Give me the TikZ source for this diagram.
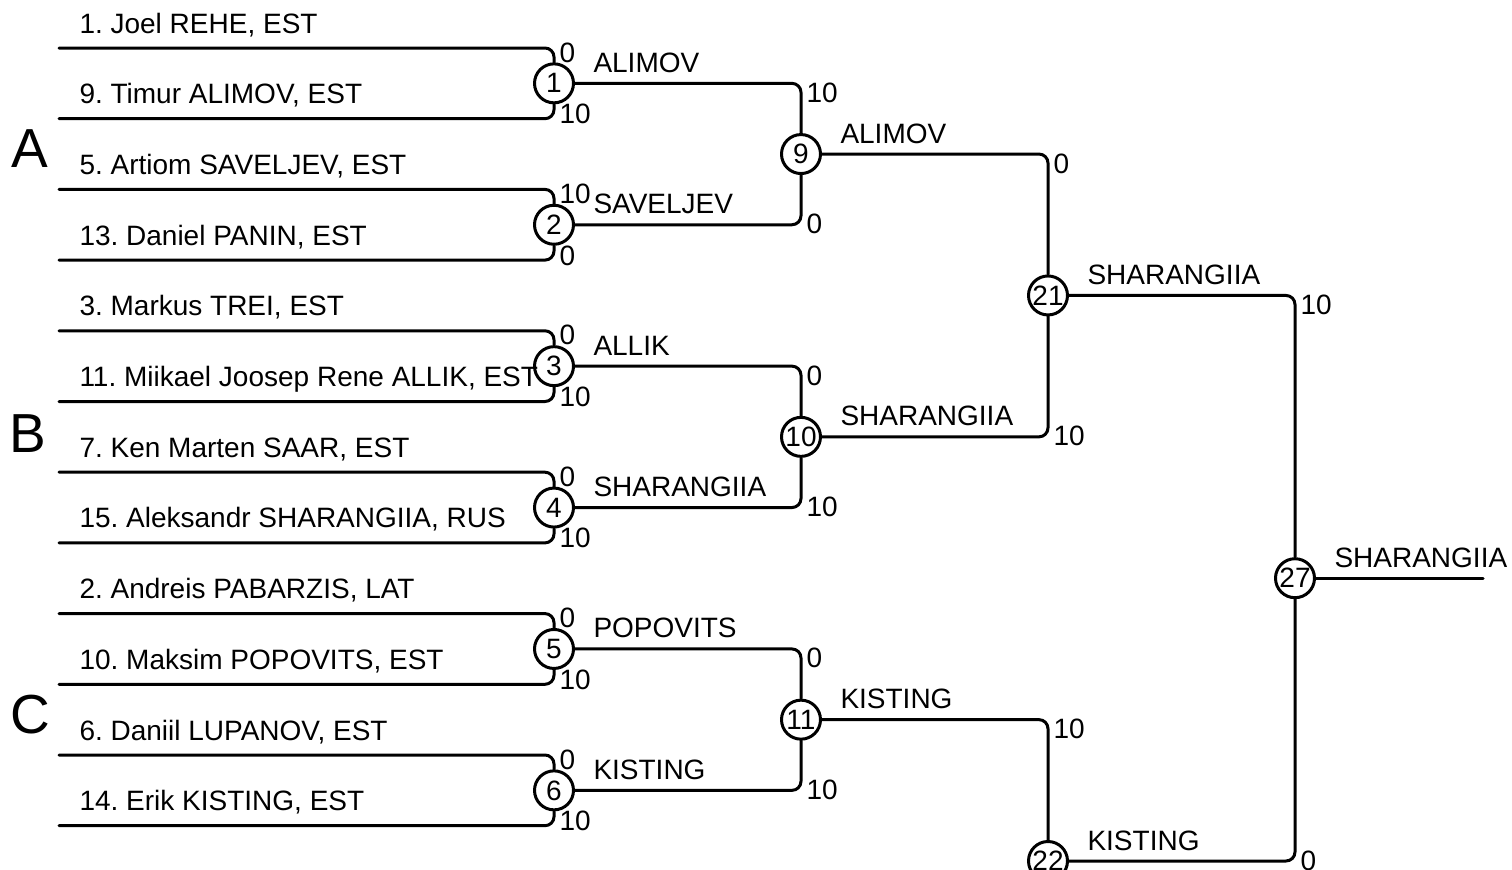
\documentclass[tikz,border=0pt]{standalone}
\usepackage{fontspec}
\setmainfont{Liberation Sans}
\usepackage{tikz}
\frenchspacing

\newcommand{\brfont}{\fontsize{14}{16}\selectfont}
\newcommand{\grfont}{\fontsize{27.5}{30}\selectfont}

\begin{document}
\begin{tikzpicture}[line cap=round,line join=round,x=0.5pt,y=-0.5pt,line width=1.5pt,
  match/.style={circle,draw,minimum size=19.5pt,inner sep=0pt,font=\brfont},
  player/.style={anchor=base west,inner sep=0pt,font=\brfont},
  winner/.style={anchor=base west,inner sep=0pt,font=\brfont},
  group/.style={anchor=base west,inner sep=0pt,font=\grfont},
  bracket/.style={rounded corners=4.5pt},
  topsc/.style={anchor=base west,inner sep=0pt,font=\brfont,xshift=2pt,yshift=-7pt},
  botsc/.style={anchor=base west,inner sep=0pt,font=\brfont,xshift=2pt,yshift=-2.5pt},
  topsclate/.style={anchor=base west,inner sep=0pt,font=\brfont,xshift=2pt,yshift=-9.5pt},
  botsclate/.style={anchor=base west,inner sep=0pt,font=\brfont,xshift=2pt,yshift=-4.5pt}]
\useasboundingbox (0,0) rectangle (1512,869);

% entrants
\foreach \txt [count=\i from 0, evaluate=\i as \yy using 48+70.7*\i] in
  {{1. Joel REHE, EST},{9. Timur ALIMOV, EST},{5. Artiom SAVELJEV, EST},{13. Daniel PANIN, EST},
   {3. Markus TREI, EST},{11. Miikael Joosep Rene ALLIK, EST},{7. Ken Marten SAAR, EST},
   {15. Aleksandr SHARANGIIA, RUS},{2. Andreis PABARZIS, LAT},{10. Maksim POPOVITS, EST},
   {6. Daniil LUPANOV, EST},{14. Erik KISTING, EST}}
{
  \coordinate (e\i) at (59,\yy);
  \node[player] (n\i) at (78,\yy-15) {\txt};
}

% groups
\node[group] (gA) at (10,167) {A};
\node[group] (gB) at (8,452) {B};
\node[group] (gC) at (9,733) {C};

% matches
\foreach \m/\xx/\yy in {1/554/83.35,2/554/224.75,3/554/366.15,4/554/507.55,5/554/648.95,6/554/790.35,
  9/801/154.05,10/801/436.85,11/801/719.65,21/1048/295.45,22/1048/861,27/1295/578.2}
  \node[match] (m\m) at (\xx,\yy) {\m};

% first round
\foreach \m/\a/\b/\sa/\sb in {1/0/1/0/10,2/2/3/10/0,3/4/5/0/10,4/6/7/0/10,5/8/9/0/10,6/10/11/0/10}
{
  \draw[bracket] (e\a) -| node[topsc] (t\m) {\sa} (m\m);
  \draw[bracket] (e\b) -| node[botsc] (b\m) {\sb} (m\m);
}

% later rounds
\draw[bracket] (m1) -| node[topsclate] (t9) {10} (m9);
\draw[bracket] (m2) -| node[botsclate] (b9) {0} (m9);
\draw[bracket] (m3) -| node[topsclate] (t10) {0} (m10);
\draw[bracket] (m4) -| node[botsclate] (b10) {10} (m10);
\draw[bracket] (m5) -| node[topsclate] (t11) {0} (m11);
\draw[bracket] (m6) -| node[botsclate] (b11) {10} (m11);
\draw[bracket] (m9) -| node[topsclate] (t21) {0} (m21);
\draw[bracket] (m10) -| node[botsclate] (b21) {10} (m21);
\draw[bracket] (m11) -| node[topsclate] (t22) {10} (m22);
\draw[bracket] (m21) -| node[topsclate] (t27) {10} (m27);
\draw[bracket] (m22) -| node[botsclate] (b27) {0} (m27);
\coordinate (fin) at (1483,578.2);
\draw (m27) -- (fin);

% winners
\foreach \m/\who in {1/ALIMOV,2/SAVELJEV,3/ALLIK,4/SHARANGIIA,5/POPOVITS,6/KISTING,
  9/ALIMOV,10/SHARANGIIA,11/KISTING,21/SHARANGIIA,22/KISTING,27/SHARANGIIA}
  \node[winner] (w\m) at ([xshift=19pt,yshift=5.5pt]m\m.center) {\who};
\end{tikzpicture}
\end{document}
